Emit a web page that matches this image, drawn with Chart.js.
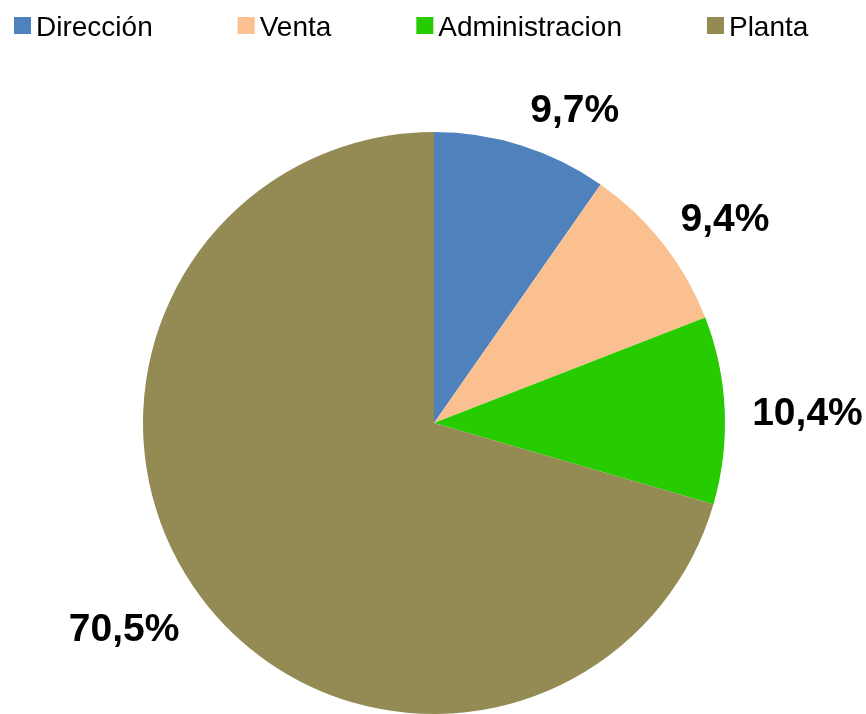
<!DOCTYPE html>
<html>
<head>
<meta charset="utf-8">
<script src="https://cdn.jsdelivr.net/npm/chart.js@4/dist/chart.umd.min.js"></script>
<style>
  html, body { margin: 0; padding: 0; background: #fff; }
  canvas { display: block; }
</style>
</head>
<body>
<canvas id="chart" width="866" height="714"></canvas>
<script>
const categories = ['Dirección', 'Venta', 'Administracion', 'Planta'];
const shares = [9.7, 9.4, 10.4, 70.5];
const sliceColors = ['#4F81BD', '#FAC090', '#26CC00', '#948A54'];
// small hand tweaks so the outside labels sit where the original put them
const labelNudge = [[42, 0], [19, 9], [15, 5], [-26, -8]];

const legendPlugin = {
  id: 'topLegend',
  afterDraw(chart) {
    const ctx = chart.ctx;
    ctx.save();
    ctx.font = '28px "Liberation Sans", Arial, sans-serif';
    ctx.textBaseline = 'alphabetic';
    let x = 14;
    categories.forEach((name, i) => {
      ctx.fillStyle = sliceColors[i];
      ctx.fillRect(x, 17, 17, 17);
      ctx.fillStyle = '#000';
      ctx.fillText(name, x + 22, 36);
      x += 22 + ctx.measureText(name).width + 85;
    });
    ctx.restore();
  }
};

const labelPlugin = {
  id: 'outsideLabels',
  afterDatasetsDraw(chart) {
    const ctx = chart.ctx;
    const arcs = chart.getDatasetMeta(0).data;
    ctx.save();
    ctx.font = 'bold 39px "Liberation Sans", Arial, sans-serif';
    ctx.fillStyle = '#000';
    ctx.textAlign = 'center';
    ctx.textBaseline = 'middle';
    arcs.forEach((arc, i) => {
      const p = arc.getProps(['x', 'y', 'startAngle', 'endAngle', 'outerRadius'], true);
      const mid = (p.startAngle + p.endAngle) / 2;
      const text = shares[i].toFixed(1).replace('.', ',') + '%';
      const w = ctx.measureText(text).width;
      const d = p.outerRadius + 12 + (w / 2) * Math.abs(Math.cos(mid)) + 13 * Math.abs(Math.sin(mid));
      const lx = p.x + d * Math.cos(mid) + labelNudge[i][0];
      const ly = p.y + d * Math.sin(mid) + labelNudge[i][1];
      ctx.fillText(text, lx, ly + 2);
    });
    ctx.restore();
  }
};

new Chart(document.getElementById('chart').getContext('2d'), {
  type: 'pie',
  data: {
    labels: categories,
    datasets: [{
      data: shares,
      backgroundColor: sliceColors,
      borderWidth: 0
    }]
  },
  options: {
    responsive: false,
    animation: false,
    devicePixelRatio: 1,
    events: [],
    layout: { padding: { top: 132, bottom: -2, left: 142, right: 140 } },
    plugins: {
      legend: { display: false },
      tooltip: { enabled: false }
    }
  },
  plugins: [legendPlugin, labelPlugin]
});
</script>
</body>
</html>
